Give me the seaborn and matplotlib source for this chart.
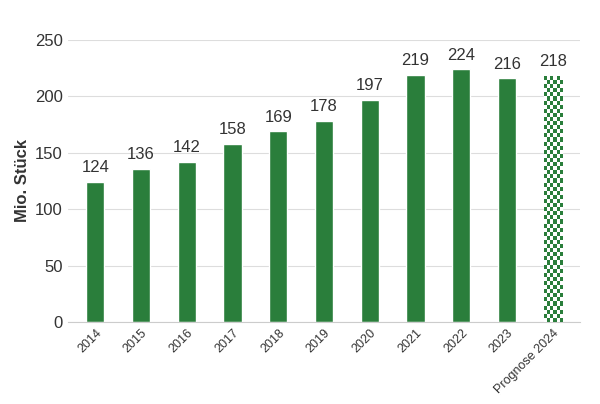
import matplotlib
matplotlib.use("Agg")
import matplotlib.pyplot as plt
import seaborn as sns
import numpy as np

years = ["2014", "2015", "2016", "2017", "2018", "2019", "2020", "2021", "2022", "2023", "Prognose 2024"]
values = [124, 136, 142, 158, 169, 178, 197, 219, 224, 216, 218]
green = "#2a7e3b"

sns.set_style("white")
plt.rcParams["font.family"] = "Liberation Sans"
fig = plt.figure(figsize=(6, 4.04), dpi=100)
ax = fig.add_axes([0.113, 0.203, 0.854, 0.698])
sns.barplot(x=years, y=values, color=green, saturation=1, width=0.4, ax=ax)

# checkered forecast bar
last = ax.patches[-1]
x0, w, h = last.get_x(), last.get_width(), last.get_height()
nx, ny = 6, 60
checker = (np.indices((ny, nx)).sum(axis=0) % 2)
cmap = matplotlib.colors.ListedColormap([green, "white"])
im = ax.imshow(checker, cmap=cmap, extent=[x0, x0 + w, 0, h], aspect="auto",
               interpolation="nearest", zorder=3)
im.set_clip_path(last)

ax.set_xlim(-0.6, len(years) - 0.4)
ax.set_ylim(0, 250)
ax.set_yticks([0, 50, 100, 150, 200, 250])
ax.yaxis.grid(True, color="#dddddd", lw=0.8)
ax.set_axisbelow(True)
for s in ["top", "right", "left"]:
    ax.spines[s].set_visible(False)
ax.spines["bottom"].set_color("#cccccc")
ax.tick_params(axis="y", labelsize=12, colors="#333333", length=0)
ax.tick_params(axis="x", labelsize=9, colors="#333333", length=0)
plt.setp(ax.get_xticklabels(), rotation=45, ha="right", rotation_mode="anchor")
ax.set_ylabel("Mio. Stück", fontsize=12, fontweight="bold", color="#333333")
for i, v in enumerate(values):
    ax.text(i, v + 6, str(v), ha="center", va="bottom", fontsize=12, color="#333333")

fig.savefig("out.png", dpi=100)
